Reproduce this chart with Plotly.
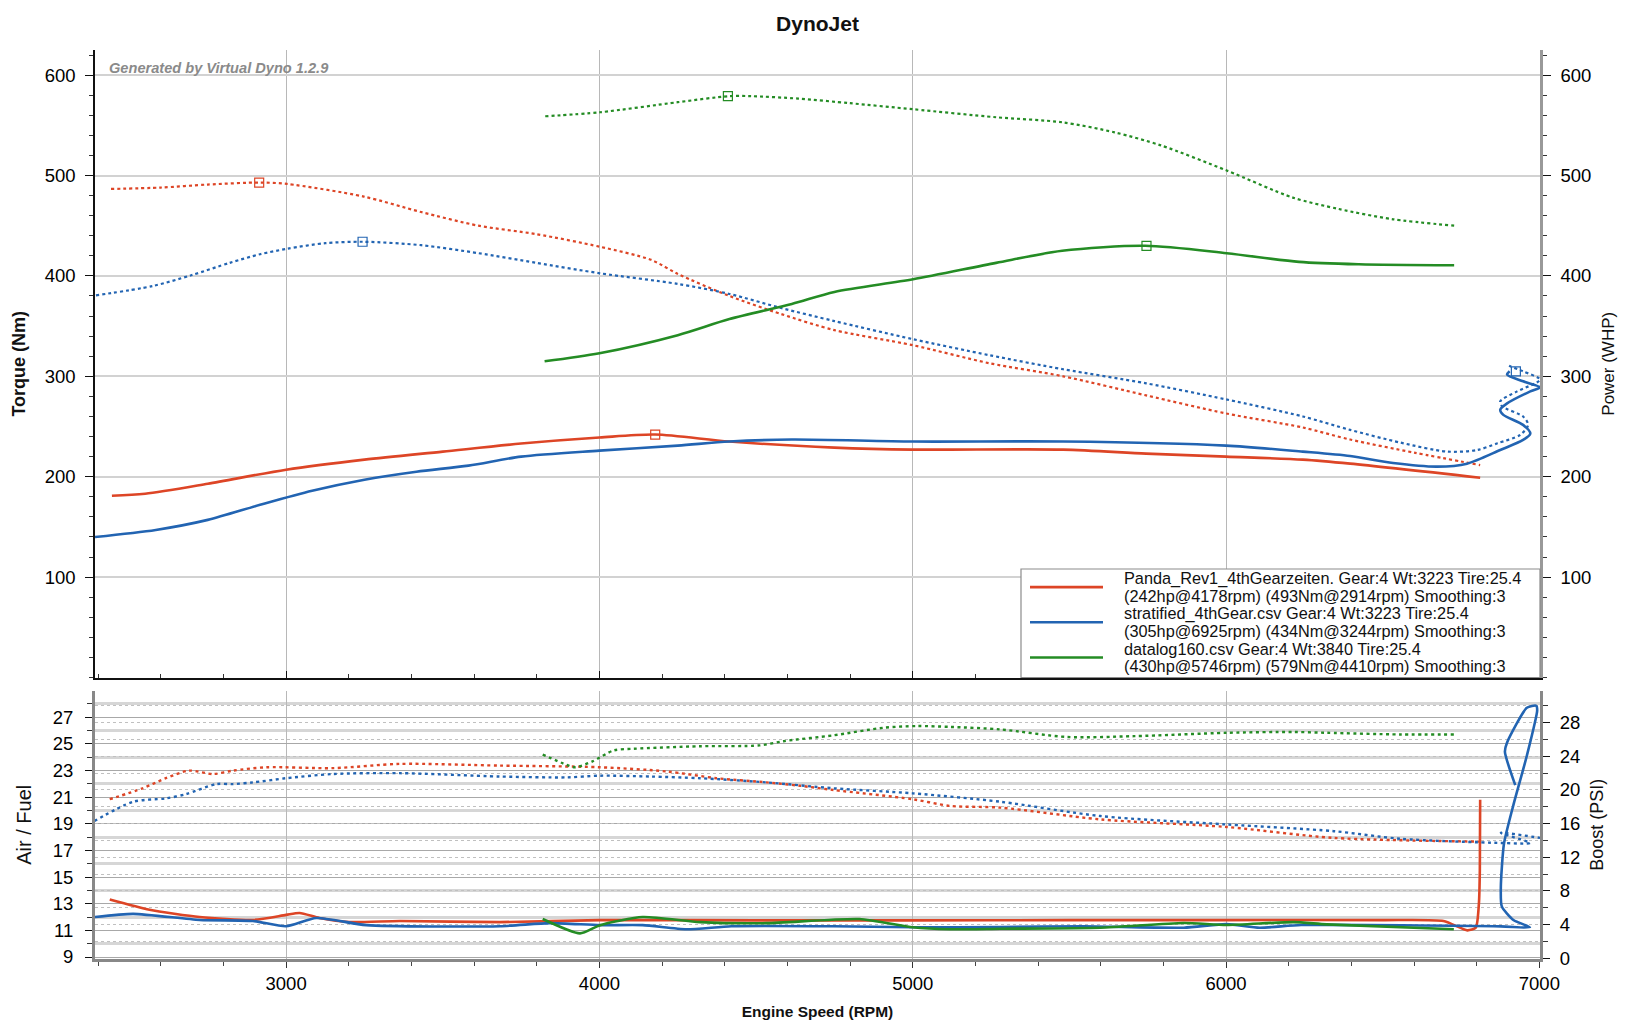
import plotly.graph_objects as go

# ---------------- data ----------------
runs = ["Panda_Rev1_4thGearzeiten.", "stratified_4thGear.csv", "datalog160.csv"]
colors = ["#dd4526", "#2264b2", "#248c24"]
gear = [4, 4, 4]
weight = [3223, 3223, 3840]
tire = [25.4, 25.4, 25.4]
smoothing = [3, 3, 3]
peak_hp = [242, 305, 430]
peak_hp_rpm = [4178, 6925, 5746]
peak_nm = [493, 434, 579]
peak_nm_rpm = [2914, 3244, 4410]

rpm_ticks = [3000, 4000, 5000, 6000, 7000]
power_ticks = [100, 200, 300, 400, 500, 600]
afr_ticks = [9, 11, 13, 15, 17, 19, 21, 23, 25, 27]
boost_ticks = [0, 4, 8, 12, 16, 20, 24, 28]

# Torque (Nm) - dotted
red_tq_rpm = [2441, 2600, 2750, 2917, 3003, 3248, 3431, 3614, 3798, 4002, 4165, 4250, 4415, 4580, 4750, 5000, 5245, 5480, 5745, 6000, 6245, 6396, 6600, 6811]
red_tq = [486.6, 488, 491, 493, 491.6, 479, 463.6, 450, 441.6, 429, 416, 402, 380, 362, 346, 331, 313, 300, 281, 263, 249, 237, 224, 211.6]
blue_tq_rpm = [2393, 2575, 2697, 2820, 2917, 3003, 3125, 3248, 3431, 3614, 3798, 4002, 4250, 4415, 4580, 4750, 5000, 5245, 5480, 5745, 6000, 6245, 6396, 6556, 6706, 6802, 6866, 6939, 6964, 6948, 6881, 6875, 6929, 7002, 6948, 6907, 6897]
blue_tq = [380.6, 390, 400.6, 413, 421.6, 427, 432.6, 434, 430.6, 422.6, 413, 402.6, 392, 382, 368, 355, 337, 321, 307, 293, 277, 260, 246.6, 234, 225, 226.6, 233.3, 241.6, 251.6, 260, 270, 275, 285, 296.6, 305, 310, 311.6]
green_tq_rpm = [3827, 4002, 4250, 4413, 4486, 4634, 4800, 5001, 5266, 5477, 5644, 5792, 6002, 6213, 6360, 6529, 6728]
green_tq = [559, 563, 573, 579, 579, 576.6, 572, 566, 558, 553, 543, 530, 505, 478, 466.6, 456.6, 450]

# Power (WHP) - solid
red_hp_rpm = [2444, 2550, 2750, 3000, 3250, 3500, 3750, 4000, 4178, 4415, 4750, 5000, 5480, 5745, 6000, 6245, 6396, 6811]
red_hp = [181, 183, 193, 207, 217, 225, 233, 239, 242, 235, 229, 227, 227, 223, 220, 217, 213, 199]
blue_hp_rpm = [2390, 2584, 2750, 2917, 3083, 3250, 3416, 3582, 3750, 4000, 4250, 4415, 4614, 5000, 5480, 6000, 6245, 6396, 6533, 6674, 6769, 6875, 6948, 6971, 6948, 6885, 6875, 6897, 6971, 7002, 6948, 6897, 6905]
blue_hp = [140, 147, 157, 172, 186, 197, 205, 211, 220, 226, 231, 235, 237, 235, 235, 231, 225, 220.6, 213.6, 210, 213, 226.6, 236.6, 243, 251.6, 261.6, 266.6, 273, 285, 289, 295, 301.6, 305]
green_hp_rpm = [3825, 4000, 4250, 4415, 4614, 4750, 5001, 5266, 5477, 5742, 6002, 6233, 6424, 6728]
green_hp = [315, 323, 341, 357, 372, 384, 396.6, 413, 425, 430, 422.6, 414, 411.6, 410.6]

# Air / Fuel - solid
red_afr_rpm = [2437, 2564, 2724, 2894, 3000, 3043, 3106, 3203, 3363, 3682, 4002, 4500, 5000, 5500, 6000, 6500, 6694, 6770, 6797, 6807, 6810, 6811]
red_afr = [13.32, 12.55, 12.0, 11.78, 12.16, 12.3, 11.93, 11.62, 11.7, 11.62, 11.77, 11.75, 11.75, 11.77, 11.77, 11.77, 11.7, 11.0, 11.2, 13.0, 15.5, 20.8]
blue_afr_rpm = [2388, 2512, 2724, 2894, 3000, 3096, 3256, 3682, 3842, 4002, 4138, 4278, 4421, 4747, 5000, 5280, 5546, 5865, 6002, 6107, 6240, 6877, 6970, 6917, 6880, 6877, 6887, 6917, 6960, 6993, 6990, 6960, 6897, 6890, 6923]
blue_afr = [12.0, 12.24, 11.78, 11.7, 11.31, 11.93, 11.39, 11.31, 11.54, 11.39, 11.39, 11.08, 11.31, 11.31, 11.23, 11.25, 11.31, 11.2, 11.47, 11.2, 11.4, 11.3, 11.23, 11.78, 12.8, 14.25, 17.5, 20.4, 24.1, 27.5, 27.85, 27.7, 25.1, 24.4, 21.9]
green_afr_rpm = [3819, 3938, 4002, 4138, 4321, 4534, 4830, 5000, 5120, 5280, 5599, 5865, 6002, 6215, 6321, 6727]
green_afr = [11.85, 10.77, 11.39, 12.0, 11.62, 11.54, 11.85, 11.23, 11.08, 11.12, 11.2, 11.55, 11.4, 11.62, 11.45, 11.08]

# Boost (PSI) - dotted
red_boost_rpm = [2437, 2542, 2616, 2690, 2767, 2830, 2937, 3150, 3363, 3682, 4002, 4215, 4374, 4534, 4640, 4747, 5000, 5120, 5280, 5599, 6002, 6344, 6811]
red_boost = [18.9, 20.2, 21.4, 22.3, 21.9, 22.3, 22.7, 22.6, 23.1, 22.9, 22.7, 22.2, 21.4, 20.9, 20.5, 20.0, 18.9, 18.1, 17.9, 16.5, 15.6, 14.3, 13.86]
blue_boost_rpm = [2388, 2512, 2616, 2680, 2777, 2830, 2894, 3000, 3150, 3363, 3682, 3895, 4002, 4161, 4321, 4534, 4747, 5000, 5280, 5599, 6002, 6344, 6557, 6877, 6970, 6877, 7002]
blue_boost = [16.3, 18.6, 19.0, 19.5, 20.7, 20.7, 20.9, 21.4, 21.9, 22.0, 21.6, 21.5, 21.7, 21.6, 21.4, 20.9, 20.2, 19.6, 18.6, 16.9, 15.9, 15.1, 14.2, 13.7, 13.7, 14.9, 14.3]
green_boost_rpm = [3819, 3895, 3922, 3978, 4045, 4108, 4321, 4511, 4587, 4747, 4907, 5013, 5120, 5280, 5493, 5706, 6002, 6215, 6321, 6557, 6727]
green_boost = [24.2, 23.0, 22.7, 23.4, 24.7, 24.9, 25.2, 25.3, 25.8, 26.5, 27.4, 27.6, 27.5, 27.2, 26.3, 26.4, 26.8, 26.9, 26.8, 26.6, 26.6]

# ---------------- figure ----------------
FONT = "Liberation Sans, Arial, sans-serif"
torque = [(red_tq_rpm, red_tq), (blue_tq_rpm, blue_tq), (green_tq_rpm, green_tq)]
power = [(red_hp_rpm, red_hp), (blue_hp_rpm, blue_hp), (green_hp_rpm, green_hp)]
afr = [(red_afr_rpm, red_afr), (blue_afr_rpm, blue_afr), (green_afr_rpm, green_afr)]
boost = [(red_boost_rpm, red_boost), (blue_boost_rpm, blue_boost), (green_boost_rpm, green_boost)]

fig = go.Figure()
for i in range(3):
    c = colors[i]
    fig.add_trace(go.Scatter(x=torque[i][0], y=torque[i][1], xaxis="x", yaxis="y", mode="lines",
                             line=dict(color=c, width=2.2, dash="3px,3px", shape="spline", smoothing=0.8),
                             showlegend=False, hoverinfo="skip"))
    fig.add_trace(go.Scatter(x=power[i][0], y=power[i][1], xaxis="x", yaxis="y2", mode="lines",
                             line=dict(color=c, width=2.6, shape="spline", smoothing=0.8),
                             showlegend=False, hoverinfo="skip"))
    fig.add_trace(go.Scatter(x=[peak_nm_rpm[i]], y=[peak_nm[i]], xaxis="x", yaxis="y", mode="markers",
                             marker=dict(symbol="square-open", size=9, color=c, line=dict(width=1.2)),
                             showlegend=False, hoverinfo="skip"))
    fig.add_trace(go.Scatter(x=[peak_hp_rpm[i]], y=[peak_hp[i]], xaxis="x", yaxis="y2", mode="markers",
                             marker=dict(symbol="square-open", size=9, color=c, line=dict(width=1.2)),
                             showlegend=False, hoverinfo="skip"))
    fig.add_trace(go.Scatter(x=afr[i][0], y=afr[i][1], xaxis="x2", yaxis="y3", mode="lines",
                             line=dict(color=c, width=2.6, shape="spline", smoothing=0.6),
                             showlegend=False, hoverinfo="skip"))
    fig.add_trace(go.Scatter(x=boost[i][0], y=boost[i][1], xaxis="x2", yaxis="y4", mode="lines",
                             line=dict(color=c, width=2.4, dash="3px,3.5px", shape="spline", smoothing=0.8),
                             showlegend=False, hoverinfo="skip"))

# pixel layout (full-size)
PT, PB = 50, 959           # plot area top / bottom
H = PB - PT
TOP_BOTTOM, BOT_TOP = 677.5, 690.5
TOP_DOM = [(PB - TOP_BOTTOM) / H, 1.0]
BOT_DOM = [0.0, (PB - BOT_TOP) / H]
XR = [2390, 7002]
tickfont = dict(family=FONT, size=18.5, color="#000")

fig.update_layout(
    width=1634, height=1035,
    margin=dict(l=95, r=94, t=PT, b=1035 - PB),
    paper_bgcolor="white", plot_bgcolor="white",
    font=dict(family=FONT, color="#111"),
    title=dict(text="DynoJet", x=0.5, xref="paper", y=1 - 24 / 1035, yanchor="middle",
               font=dict(family=FONT, size=21, weight="bold", color="#111")),
    xaxis=dict(domain=[0, 1], anchor="y", range=XR, tickvals=rpm_ticks, showticklabels=False,
               showgrid=True, gridcolor="#b8b8b8", gridwidth=1.3, zeroline=False,
               showline=True, linecolor="#111", linewidth=1.5,
               ticks="inside", ticklen=7, tickcolor="#111",
               minor=dict(tickmode="linear", tick0=0, dtick=200, ticks="inside", ticklen=4, tickcolor="#333")),
    xaxis3=dict(overlaying="x", anchor="y", side="top", range=XR, tickvals=rpm_ticks, showticklabels=False,
                showgrid=False, zeroline=False, showline=True, linecolor="#999", linewidth=2.5,
                ticks="inside", ticklen=6, tickcolor="#333",
                minor=dict(tickmode="linear", tick0=0, dtick=200, ticks="inside", ticklen=4, tickcolor="#555")),
    yaxis=dict(domain=TOP_DOM, anchor="x", range=[0, 625], tickvals=power_ticks, tickfont=tickfont,
               showgrid=True, gridcolor="#d2d2d2", gridwidth=2, zeroline=False,
               showline=True, linecolor="#111", linewidth=1.5,
               ticks="outside", ticklen=8, tickcolor="#111", ticklabelstandoff=6,
               minor=dict(tickmode="linear", tick0=0, dtick=20, ticks="outside", ticklen=4, tickcolor="#333"),
               title=dict(text="Torque (Nm)", font=dict(family=FONT, size=18, weight="bold", color="#111"), standoff=14)),
    yaxis2=dict(overlaying="y", anchor="x", side="right", range=[0, 625], tickvals=power_ticks, tickfont=tickfont,
                showgrid=False, zeroline=False, showline=True, linecolor="#999", linewidth=2.5,
                ticks="outside", ticklen=8, tickcolor="#111", ticklabelstandoff=6,
                minor=dict(tickmode="linear", tick0=0, dtick=20, ticks="outside", ticklen=4, tickcolor="#333"),
                title=dict(text="Power (WHP)", font=dict(family=FONT, size=17, color="#111"), standoff=12)),
    xaxis2=dict(domain=[0, 1], anchor="y3", range=XR, tickvals=rpm_ticks, tickfont=tickfont,
                showgrid=True, gridcolor="#b8b8b8", gridwidth=1.3, zeroline=False,
                showline=True, linecolor="#888", linewidth=3,
                ticks="outside", ticklen=6, tickcolor="#333", ticklabelstandoff=0,
                minor=dict(tickmode="linear", tick0=0, dtick=200, ticks="outside", ticklen=4, tickcolor="#444"),
                title=dict(text="Engine Speed (RPM)", font=dict(family=FONT, size=15.5, weight="bold", color="#111"), standoff=13)),
    xaxis4=dict(overlaying="x2", anchor="y3", side="top", range=XR, tickvals=rpm_ticks, showticklabels=False,
                showgrid=False, zeroline=False, showline=True, linecolor="#111", linewidth=1.8,
                ticks="inside", ticklen=6, tickcolor="#222",
                minor=dict(tickmode="linear", tick0=0, dtick=200, ticks="inside", ticklen=4, tickcolor="#444")),
    yaxis3=dict(domain=BOT_DOM, anchor="x2", range=[8.85, 29], tickvals=afr_ticks, tickfont=tickfont,
                showgrid=True, gridcolor="#a8a8a8", gridwidth=1, zeroline=False,
                showline=True, linecolor="#888", linewidth=3,
                ticks="outside", ticklen=7, tickcolor="#111", ticklabelstandoff=8,
                minor=dict(tickmode="linear", tick0=8, dtick=2, ticks="outside", ticklen=5, tickcolor="#333",
                           showgrid=True, gridcolor="#d6d6d6", gridwidth=2.5),
                title=dict(text="Air / Fuel", font=dict(family=FONT, size=20, color="#111"), standoff=16)),
    yaxis4=dict(overlaying="y3", anchor="x2", side="right", range=[-0.1, 31.83], tickvals=boost_ticks, tickfont=tickfont,
                showgrid=True, gridcolor="#c0c0c0", gridwidth=1, griddash="dot", zeroline=False,
                showline=True, linecolor="#888", linewidth=3,
                ticks="outside", ticklen=7, tickcolor="#111", ticklabelstandoff=6,
                minor=dict(tickmode="linear", tick0=0, dtick=2, ticks="outside", ticklen=5, tickcolor="#333",
                           showgrid=True, gridcolor="#c0c0c0", gridwidth=1, griddash="dot"),
                title=dict(text="Boost (PSI)", font=dict(family=FONT, size=18, color="#111"), standoff=12)),
)

# watermark
fig.add_annotation(text="Generated by Virtual Dyno 1.2.9", xref="paper", yref="paper",
                   x=0.0083, y=(PB - 68) / H, xanchor="left", yanchor="middle", showarrow=False,
                   font=dict(family=FONT, size=14.6, color="#8a8a8a", style="italic", weight="bold"))

# legend box (manual, to match the two-line entries)
LX0, LX1 = (1021 - 95) / 1445, 1.0
LY0, LY1 = TOP_DOM[0], (PB - 569) / H
fig.add_shape(type="rect", xref="paper", yref="paper", x0=LX0, x1=LX1, y0=LY0, y1=LY1,
              fillcolor="white", line=dict(color="#8c8c8c", width=1.2), layer="above")
line_pitch = 17.6
for i in range(3):
    y1 = 578.3 + (2 * i) * line_pitch
    y2 = y1 + line_pitch
    ym = (y1 + y2) / 2
    fig.add_shape(type="line", xref="paper", yref="paper",
                  x0=(1030 - 95) / 1445, x1=(1103 - 95) / 1445, y0=(PB - ym) / H, y1=(PB - ym) / H,
                  line=dict(color=colors[i], width=2.6), layer="above")
    t1 = f"{runs[i]} Gear:{gear[i]} Wt:{weight[i]} Tire:{tire[i]}"
    t2 = f"({peak_hp[i]}hp@{peak_hp_rpm[i]}rpm) ({peak_nm[i]}Nm@{peak_nm_rpm[i]}rpm) Smoothing:{smoothing[i]}"
    for txt, yy in ((t1, y1), (t2, y2)):
        fig.add_annotation(text=txt, xref="paper", yref="paper", x=(1122 - 95) / 1445, y=(PB - yy) / H,
                           xanchor="left", yanchor="middle", showarrow=False,
                           font=dict(family=FONT, size=16.3, color="#111"))

fig.write_html("out.html", config={"displayModeBar": False},
               post_script="document.body.style.margin='0';document.body.style.overflow='hidden';")
